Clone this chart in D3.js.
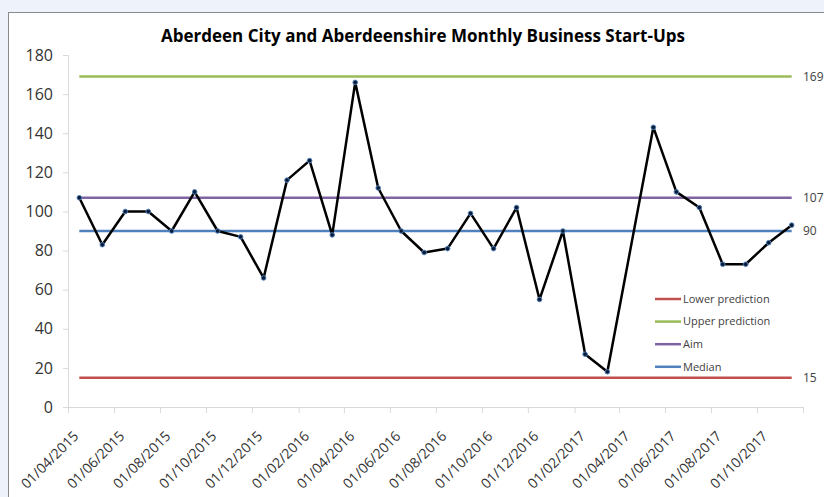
<!DOCTYPE html>
<html>
<head>
<meta charset="utf-8">
<script src="https://cdn.jsdelivr.net/npm/d3@7"></script>
<style>
  body { margin: 0; background: #eef3fb; }
  svg { display: block; }
  text { font-family: "Open Sans", "Liberation Sans", sans-serif; fill: #404040; }
</style>
</head>
<body>
<div id="chart"></div>
<script>
// monthly start-ups, Apr 2015 - Nov 2017 (Apr 2017 missing)
var months = ["2015-04","2015-05","2015-06","2015-07","2015-08","2015-09","2015-10","2015-11","2015-12",
  "2016-01","2016-02","2016-03","2016-04","2016-05","2016-06","2016-07","2016-08","2016-09","2016-10","2016-11","2016-12",
  "2017-01","2017-02","2017-03","2017-04","2017-05","2017-06","2017-07","2017-08","2017-09","2017-10","2017-11"];
var startUps = [107,83,100,100,90,110,90,87,66,
  116,126,88,166,112,90,79,81,99,81,102,55,
  90,27,18,null,143,110,102,73,73,84,93];

var refNames = ["Lower prediction","Upper prediction","Aim","Median"];
var refValues = [15,169,107,90];
var refColors = ["#c0504d","#9bbb59","#8064a2","#4f81bd"];

var tickLabels = ["01/04/2015","01/06/2015","01/08/2015","01/10/2015","01/12/2015","01/02/2016","01/04/2016",
  "01/06/2016","01/08/2016","01/10/2016","01/12/2016","01/02/2017","01/04/2017","01/06/2017","01/08/2017",
  "01/10/2017","01/12/2017"];
var yTicks = [0,20,40,60,80,100,120,140,160,180];

var W = 824, H = 497;
var parseMonth = d3.timeParse("%Y-%m");
var parseTick = d3.timeParse("%d/%m/%Y");

var svg = d3.select("#chart").append("svg")
    .attr("width", W)
    .attr("height", H);

svg.append("rect")
    .attr("x", 8.5).attr("y", 12.5)
    .attr("width", W).attr("height", H)
    .attr("fill", "#fff")
    .attr("stroke", "#8a8a8a");

var x = d3.scaleTime()
    .domain([parseTick(tickLabels[0]), parseTick(tickLabels[tickLabels.length - 1])])
    .range([68, 803]);
var y = d3.scaleLinear().domain([0, 180]).range([407, 55]);

function mid(m) {
    var s = parseMonth(m), e = d3.timeMonth.offset(s, 1);
    return new Date((+s + +e) / 2);
}

var pts = months.map(function(m, i) { return {date: mid(m), v: startUps[i]}; })
    .filter(function(d) { return d.v != null; });

// axes
var yAxis = svg.append("g")
    .attr("transform", "translate(68,0)")
    .call(d3.axisLeft(y).tickValues(yTicks).tickSize(5).tickPadding(10));
var xAxis = svg.append("g")
    .attr("transform", "translate(0,407)")
    .call(d3.axisBottom(x).tickValues(tickLabels.map(parseTick)).tickSize(6)
        .tickFormat(function(d, i) { return i < tickLabels.length - 1 ? tickLabels[i] : ""; }));
[yAxis, xAxis].forEach(function(a) {
    a.selectAll("path, line").attr("stroke", "#d9d9d9");
});
yAxis.selectAll("text").style("font-size", "16px").style("fill", "#333");
xAxis.selectAll("text")
    .style("font-size", "14px").style("fill", "#333")
    .attr("text-anchor", "end")
    .attr("dy", null).attr("y", 0)
    .attr("transform", "translate(11,30) rotate(-45)");

// reference lines
var x0 = pts[0].date, x1 = pts[pts.length - 1].date;
svg.selectAll(".ref").data(refValues).enter().append("line")
    .attr("x1", x(x0)).attr("x2", x(x1))
    .attr("y1", function(d) { return y(d); })
    .attr("y2", function(d) { return y(d); })
    .attr("stroke", function(d, i) { return refColors[i]; })
    .attr("stroke-width", 2.5);
svg.selectAll(".reflab").data(refValues).enter().append("text")
    .attr("x", 803).attr("y", function(d) { return y(d); })
    .attr("dy", "0.35em")
    .style("font-size", "12px")
    .text(function(d) { return d; });

// data line
svg.append("path")
    .datum(pts)
    .attr("fill", "none")
    .attr("stroke", "#000")
    .attr("stroke-width", 2.5)
    .attr("stroke-linejoin", "round")
    .attr("d", d3.line().x(function(d) { return x(d.date); }).y(function(d) { return y(d.v); }));
svg.selectAll(".pt").data(pts).enter().append("circle")
    .attr("cx", function(d) { return x(d.date); })
    .attr("cy", function(d) { return y(d.v); })
    .attr("r", 2.3)
    .attr("fill", "#0b1a33")
    .attr("stroke", "#4f81bd")
    .attr("stroke-width", 1);

// legend
var lg = svg.append("g").attr("transform", "translate(655,299)");
refNames.forEach(function(n, i) {
    lg.append("line").attr("x1", 0).attr("x2", 26)
        .attr("y1", i * 22.6).attr("y2", i * 22.6)
        .attr("stroke", refColors[i]).attr("stroke-width", 2.5);
    lg.append("text").attr("x", 28).attr("y", i * 22.6).attr("dy", "0.35em")
        .style("font-size", "11px").text(n);
});

// title
svg.append("text")
    .attr("x", 423).attr("y", 42)
    .attr("text-anchor", "middle")
    .style("font-size", "17px").style("font-weight", "bold").style("fill", "#000")
    .text("Aberdeen City and Aberdeenshire Monthly Business Start-Ups");
</script>
</body>
</html>
